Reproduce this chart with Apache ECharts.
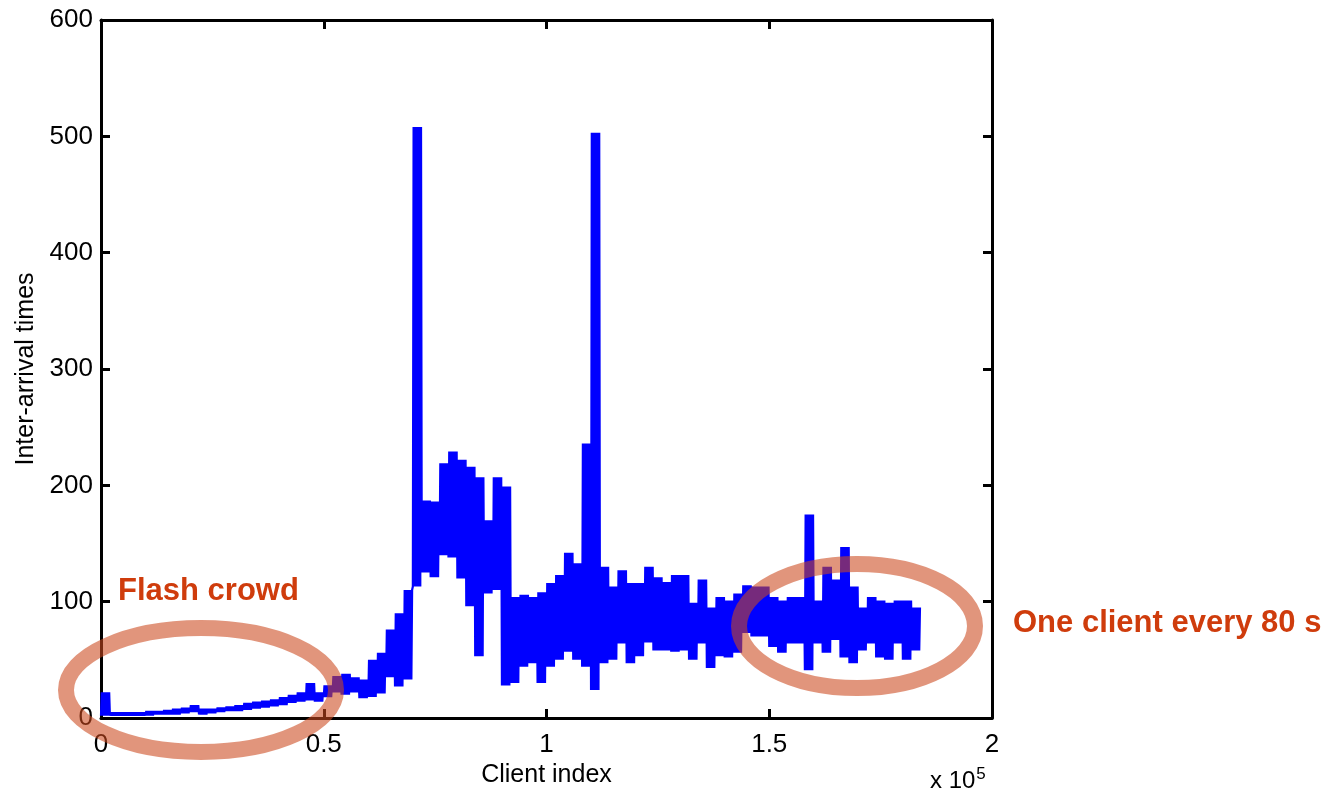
<!DOCTYPE html>
<html>
<head>
<meta charset="utf-8">
<script src="https://cdn.jsdelivr.net/npm/echarts@6/dist/echarts.min.js"></script>
<style>
  html, body { margin: 0; padding: 0; background: #fff; }
  #chart { width: 1335px; height: 799px; }
</style>
</head>
<body>
<div id="chart"></div>
<script>
// client index step between envelope samples
var xStep = 2000;
// lower / upper envelope of the inter-arrival trace, one pair per step
var lower = [2, 2, 2, 2, 2, 2, 3, 3, 3, 4, 5, 3, 4, 5, 6, 6, 7, 8, 9, 10,
  11, 13, 14, 15, 14, 18, 22, 20, 22, 17, 18, 21, 35, 27, 33, 113, 125, 121, 140, 138,
  120, 96, 53, 107, 110, 28, 30, 44, 47, 30, 44, 50, 57, 50, 44, 24, 47, 50, 64, 47,
  53, 65, 58, 58, 57, 58, 50, 64, 43, 53, 52, 56, 73, 70, 70, 61, 56, 64, 64, 41,
  64, 56, 67, 52, 47, 58, 64, 52, 50, 64, 50, 58];
var upper = [22, 5, 5, 5, 5, 6, 6, 7, 8, 9, 11, 8, 8, 9, 10, 11, 13, 14, 15, 16,
  18, 20, 22, 30, 22, 28, 36, 38, 35, 33, 50, 56, 76, 90, 110, 508, 187, 186, 219, 229,
  222, 216, 207, 170, 207, 199, 104, 106, 104, 108, 116, 123, 142, 133, 236, 503, 130, 113, 127, 116,
  116, 130, 121, 117, 123, 123, 99, 119, 95, 104, 101, 107, 114, 113, 113, 104, 101, 104, 104, 175,
  101, 130, 119, 147, 113, 95, 104, 101, 99, 101, 101, 95];
var xTicks = [0, 0.5, 1, 1.5, 2];
var yTicks = [0, 100, 200, 300, 400, 500, 600];

// the real trace swings between its envelope many times per step
var swings = 12;
var trace = [];
for (var i = 0; i < lower.length; i++) {
  for (var k = 0; k < swings; k++) {
    trace.push([i * xStep + k * xStep / swings, k % 2 === 0 ? lower[i] : upper[i]]);
  }
}

var chart = echarts.init(document.getElementById('chart'));
var font = 'Liberation Sans, Arial, sans-serif';
function axisBase() {
  return {
    axisLine: { onZero: false, lineStyle: { color: '#000', width: 3 } },
    axisTick: { inside: true, length: 9, lineStyle: { color: '#000', width: 3 } },
    splitLine: { show: false }
  };
}

var option = {
  animation: false,
  backgroundColor: '#fff',
  grid: { left: 101, right: 343, top: 20, bottom: 81 },
  xAxis: [
    Object.assign(axisBase(), {
      type: 'value', min: 0, max: 200000, interval: 50000,
      name: 'Client index', nameLocation: 'middle', nameGap: 40,
      nameTextStyle: { color: '#000', fontSize: 25, fontFamily: font },
      axisLabel: {
        color: '#000', fontSize: 26, fontFamily: font, margin: 14,
        formatter: function (v) { return String(xTicks[Math.round(v / 50000)]); }
      }
    }),
    Object.assign(axisBase(), {
      type: 'value', min: 0, max: 200000, interval: 50000, position: 'top',
      axisLabel: { show: false }
    })
  ],
  yAxis: [
    Object.assign(axisBase(), {
      type: 'value', min: 0, max: 600, interval: 100,
      name: 'Inter-arrival times', nameLocation: 'middle', nameGap: 60,
      nameTextStyle: { color: '#000', fontSize: 25, fontFamily: font },
      axisLabel: {
        color: '#000', fontSize: 26, fontFamily: font, margin: 8,
        formatter: function (v) { return String(yTicks[Math.round(v / 100)]); }
      }
    }),
    Object.assign(axisBase(), {
      type: 'value', min: 0, max: 600, interval: 100, position: 'right',
      axisLabel: { show: false }
    })
  ],
  series: [{
    type: 'line',
    data: trace,
    showSymbol: false,
    symbol: 'none',
    lineStyle: { color: '#0000ff', width: 2.2 },
    z: 3
  }],
  graphic: [
    {
      type: 'ellipse', z: 100,
      shape: { cx: 201, cy: 690, rx: 135, ry: 62 },
      style: { fill: 'none', stroke: 'rgba(204,72,30,0.58)', lineWidth: 16 }
    },
    {
      type: 'ellipse', z: 100,
      shape: { cx: 857, cy: 626, rx: 118, ry: 62 },
      style: { fill: 'none', stroke: 'rgba(204,72,30,0.58)', lineWidth: 16 }
    },
    {
      type: 'text', z: 110, left: 118, top: 576,
      style: { text: 'Flash crowd', fill: '#cf3c0c', font: 'bold 31px Liberation Sans, Arial, sans-serif' }
    },
    {
      type: 'text', z: 110, left: 1013, top: 608,
      style: { text: 'One client every 80 s', fill: '#cf3c0c', font: 'bold 31px Liberation Sans, Arial, sans-serif' }
    },
    {
      type: 'text', z: 110, left: 930, top: 766,
      style: {
        text: 'x 10{sup|5}',
        fill: '#000',
        font: '24px Liberation Sans, Arial, sans-serif',
        rich: { sup: { fontSize: 17, verticalAlign: 'top', padding: [0, 0, 14, 1], fill: '#000' } }
      }
    }
  ]
};

option && chart.setOption(option);
</script>
</body>
</html>
